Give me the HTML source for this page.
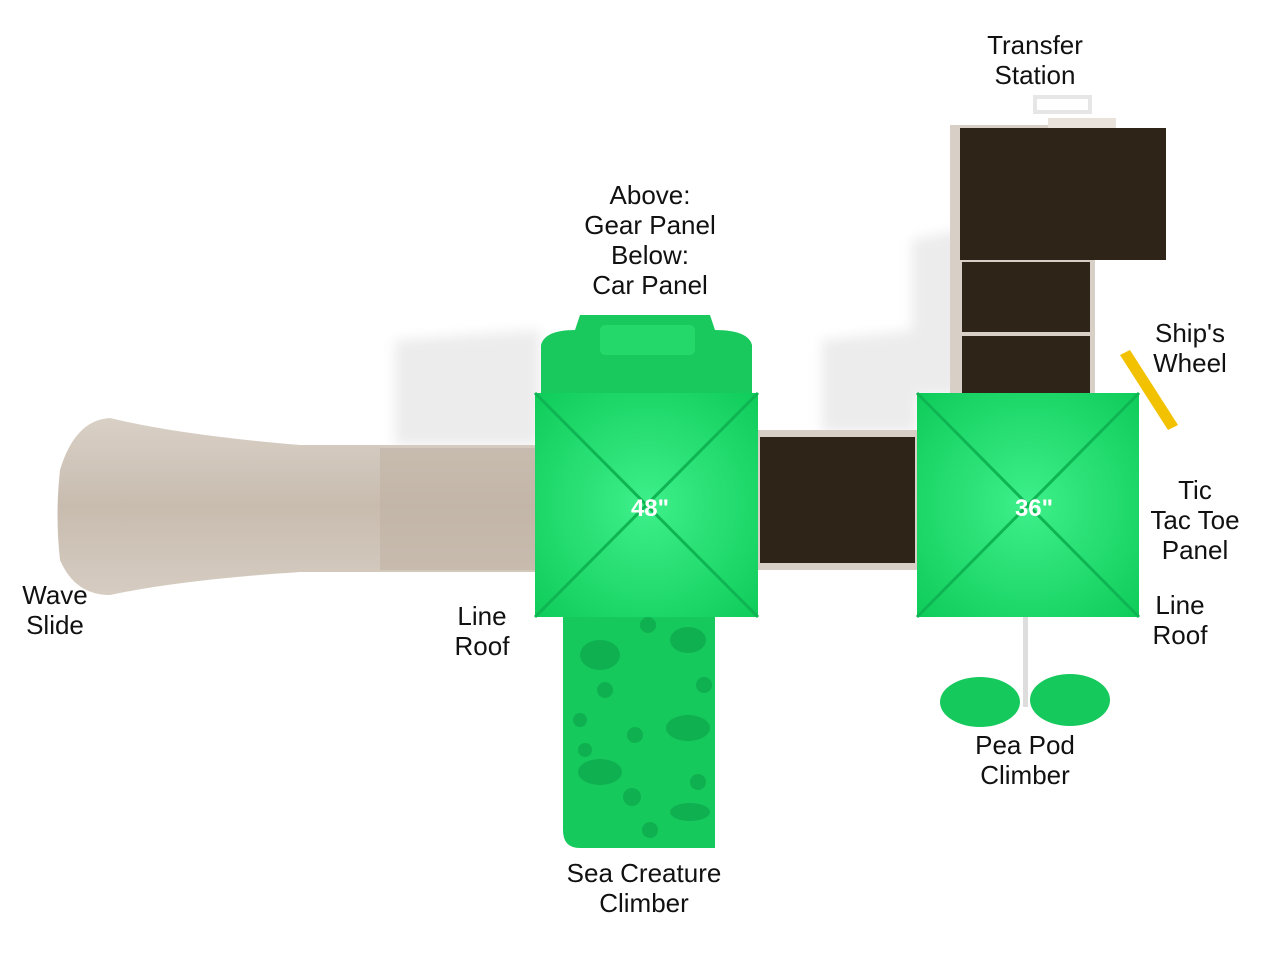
<!DOCTYPE html>
<html><head><meta charset="utf-8"><style>
html,body{margin:0;padding:0;background:#fff;}
#c{position:relative;width:1279px;height:960px;overflow:hidden;background:#fff;font-family:"Liberation Sans",sans-serif;}
.l{position:absolute;font-size:26px;color:#111;text-align:center;line-height:30px;white-space:nowrap;}
</style></head><body><div id="c">
<svg width="1279" height="960" style="position:absolute;left:0;top:0">
<defs>
<linearGradient id="sl" x1="0" y1="0" x2="0" y2="1"><stop offset="0" stop-color="#d9d0c6"/><stop offset="0.5" stop-color="#c8bcaf"/><stop offset="1" stop-color="#d6ccc1"/></linearGradient>
<radialGradient id="gr" cx="0.5" cy="0.5" r="0.7"><stop offset="0" stop-color="#3ef08a"/><stop offset="1" stop-color="#0fcc5a"/></radialGradient>
<filter id="bl"><feGaussianBlur stdDeviation="6"/></filter>
</defs>
<!-- shadows -->
<g filter="url(#bl)" fill="#ececec">
<path d="M395 340 L540 330 L540 445 L395 445 Z"/>
<path d="M822 340 L917 330 L917 432 L822 432 Z"/>
<path d="M912 240 L960 230 L960 395 L912 395 Z"/>
</g>
<path d="M1035 97 L1090 97 L1090 112 L1035 112 Z" fill="none" stroke="#e6e6e6" stroke-width="4"/>
<!-- slide -->
<path d="M60 470 Q75 420 110 418 Q180 435 300 445 L540 445 L540 572 L300 572 Q180 580 110 595 Q75 595 60 560 Q55 515 60 470 Z" fill="url(#sl)"/>
<path d="M380 448 L540 448 L540 570 L380 570 Z" fill="#bfb2a5" opacity="0.6"/>
<!-- bridge -->
<rect x="755" y="430" width="165" height="140" fill="#d8d0c6"/>
<rect x="760" y="437" width="155" height="126" fill="#2e2418"/>
<!-- transfer station -->
<rect x="950" y="125" width="145" height="275" fill="#d8d0c6"/>
<rect x="960" y="128" width="206" height="132" fill="#2e2418"/>
<rect x="962" y="262" width="128" height="70" fill="#2e2418"/>
<rect x="962" y="336" width="128" height="60" fill="#2e2418"/>
<rect x="1048" y="118" width="68" height="10" fill="#e8e2da"/>
<!-- ship wheel -->
<path d="M1120 355 L1130 350 L1178 425 L1168 430 Z" fill="#f2c200"/>
<!-- panel above -->
<path d="M541 345 Q545 330 575 330 L580 315 L710 315 L715 330 Q748 330 752 345 L752 395 L541 395 Z" fill="#19c95e"/>
<rect x="600" y="325" width="95" height="30" rx="5" fill="#24d86a"/>
<!-- left roof -->
<rect x="535" y="393" width="223" height="224" fill="url(#gr)"/>
<path d="M535 393 L758 617 M758 393 L535 617" stroke="#0eb552" stroke-width="3"/>
<!-- right roof -->
<rect x="917" y="393" width="222" height="224" fill="url(#gr)"/>
<path d="M917 393 L1139 617 M1139 393 L917 617" stroke="#0eb552" stroke-width="3"/>
<!-- climber -->
<path d="M563 617 L715 617 L715 848 L580 848 Q563 848 563 830 Z" fill="#16c95c"/>
<g fill="#0fb050">
<circle cx="648" cy="625" r="8"/><circle cx="605" cy="690" r="8"/><circle cx="704" cy="685" r="8"/><circle cx="580" cy="720" r="7"/><circle cx="635" cy="735" r="8"/><circle cx="632" cy="797" r="9"/><circle cx="698" cy="782" r="8"/><circle cx="650" cy="830" r="8"/><circle cx="585" cy="750" r="7"/>
<ellipse cx="600" cy="655" rx="20" ry="15"/><ellipse cx="688" cy="640" rx="18" ry="13"/><ellipse cx="688" cy="728" rx="22" ry="13"/><ellipse cx="600" cy="772" rx="22" ry="13"/><ellipse cx="690" cy="812" rx="20" ry="9"/>
</g>
<!-- pea pod -->
<rect x="1023" y="617" width="5" height="90" fill="#ddd"/>
<ellipse cx="980" cy="702" rx="40" ry="25" fill="#16c95c"/>
<ellipse cx="1070" cy="700" rx="40" ry="26" fill="#16c95c"/>
<text x="650" y="516" font-family="Liberation Sans" font-weight="bold" font-size="24" fill="#fff" text-anchor="middle">48"</text>
<text x="1034" y="516" font-family="Liberation Sans" font-weight="bold" font-size="24" fill="#fff" text-anchor="middle">36"</text>
</svg>
<div class="l" style="left:965px;top:30px;width:140px">Transfer<br>Station</div>
<div class="l" style="left:560px;top:180px;width:180px">Above:<br>Gear Panel<br>Below:<br>Car Panel</div>
<div class="l" style="left:1135px;top:318px;width:110px">Ship's<br>Wheel</div>
<div class="l" style="left:1130px;top:475px;width:130px">Tic<br>Tac Toe<br>Panel</div>
<div class="l" style="left:1135px;top:590px;width:90px">Line<br>Roof</div>
<div class="l" style="left:437px;top:601px;width:90px">Line<br>Roof</div>
<div class="l" style="left:0px;top:580px;width:110px">Wave<br>Slide</div>
<div class="l" style="left:950px;top:730px;width:150px">Pea Pod<br>Climber</div>
<div class="l" style="left:544px;top:858px;width:200px">Sea Creature<br>Climber</div>
</div></body></html>
